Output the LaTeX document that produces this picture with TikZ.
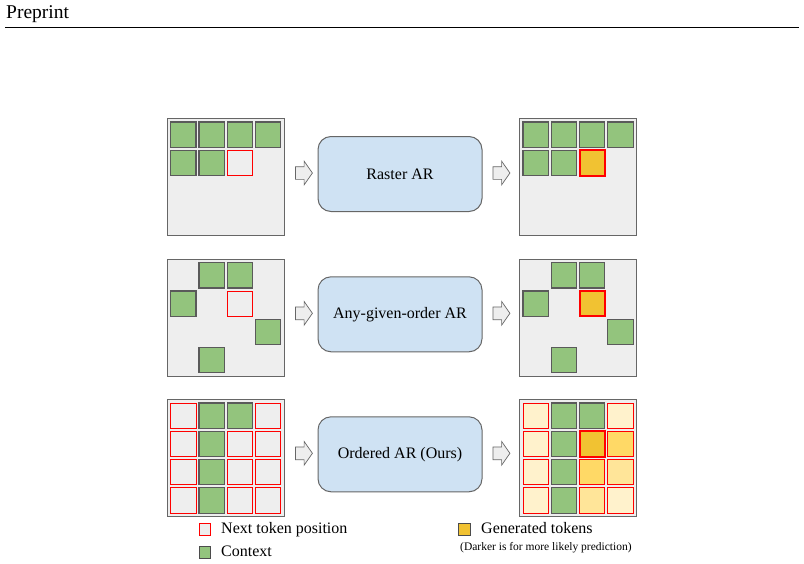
\documentclass[tikz,border=0pt]{standalone}
\usepackage{fontspec}
\setmainfont{Liberation Serif}
\usetikzlibrary{shapes.arrows}

\definecolor{panelgray}{HTML}{EEEEEE}
\definecolor{edgegray}{HTML}{666666}
\definecolor{celledge}{HTML}{5A5A5A}
\definecolor{ctxgreen}{HTML}{93C47D}
\definecolor{modelblue}{HTML}{CFE2F3}
\definecolor{genyellow}{HTML}{F1C232}
\definecolor{yellowa}{HTML}{FFD966}
\definecolor{yellowb}{HTML}{FFE599}
\definecolor{yellowc}{HTML}{FFF2CC}

\tikzset{
  panel/.style={draw=edgegray, fill=panelgray, line width=1pt, minimum size=117pt,
    inner sep=0pt, outer sep=0pt, anchor=north west},
  cell/.style={minimum size=25.3pt, inner sep=0pt, outer sep=0pt, anchor=north west},
  ctx/.style={cell, draw=celledge, fill=ctxgreen, line width=1.1pt},
  nexttok/.style={cell, draw=red, line width=1pt},
  gen/.style={cell, draw=red, fill=genyellow, line width=1.8pt},
  soft/.style={cell, draw=red, fill=#1, line width=1pt},
  model/.style={draw=edgegray, fill=modelblue, rounded corners=13pt, line width=1pt,
    minimum width=164pt, minimum height=75pt, font=\fontsize{16}{19}\selectfont},
  blockarrow/.style={single arrow, draw=edgegray, fill=panelgray, line width=0.7pt,
    minimum height=17pt, inner xsep=0pt, inner ysep=6pt, single arrow head extend=5.5pt,
    single arrow tip angle=110},
  legtext/.style={anchor=base west, inner sep=0pt, font=\fontsize{16}{19}\selectfont},
}

% token cell inside a panel: \tok[style]{panel}{col}{row}
\newcommand{\tok}[4][ctx]{%
  \node[#1] (#2-#3#4) at ([shift={({3.7+28.3*#3},{3.7+28.3*#4})}]#2.north west) {};}

\begin{document}
\begin{tikzpicture}[x=1pt, y=-1pt]
\useasboundingbox (0,0) rectangle (804,563);

% header
\node[anchor=base west, inner sep=0pt, font=\fontsize{19.5}{22}\selectfont] (head) at (6,18.5) {Preprint};
\draw[line width=0.9pt] (5,27) -- (799,27);

% panels
\node[panel] (ras) at (167,118.3) {};
\node[panel] (rasout) at (519.3,118.3) {};
\node[panel] (any) at (167,259) {};
\node[panel] (anyout) at (519.3,259) {};
\node[panel] (ord) at (167,399.3) {};
\node[panel] (ordout) at (519.3,399.3) {};

% models
\node[model] (rasm) at (400,174) {Raster AR};
\node[model] (anym) at (400,314.3) {Any-given-order AR};
\node[model] (ordm) at (400,454.3) {Ordered AR (Ours)};

\foreach \m/\y in {rasm/173, anym/313.3, ordm/453.3} {
  \node[blockarrow] (\m-in) at (301.7,\y) {};
  \node[blockarrow] (\m-out) at (499.2,\y) {};
}

% raster order
\foreach \p in {ras, rasout} {
  \foreach \c in {0,...,3} {\tok{\p}{\c}{0}}
  \tok{\p}{0}{1}
  \tok{\p}{1}{1}
}
\tok[nexttok]{ras}{2}{1}
\tok[gen]{rasout}{2}{1}

% any given order
\foreach \p in {any, anyout} {
  \foreach \c/\r in {1/0, 2/0, 0/1, 3/2, 1/3} {\tok{\p}{\c}{\r}}
}
\tok[nexttok]{any}{2}{1}
\tok[gen]{anyout}{2}{1}

% ordered
\foreach \p in {ord, ordout} {
  \foreach \r in {0,...,3} {\tok{\p}{1}{\r}}
  \tok{\p}{2}{0}
}
\foreach \c/\r in {0/0, 3/0, 0/1, 2/1, 3/1, 0/2, 2/2, 3/2, 0/3, 2/3, 3/3}
  {\tok[nexttok]{ord}{\c}{\r}}
\foreach \c/\r/\f in {0/0/yellowc, 3/0/yellowc, 0/1/yellowc, 3/1/yellowa, 0/2/yellowc,
    2/2/yellowa, 3/2/yellowb, 0/3/yellowc, 2/3/yellowb, 3/3/yellowc}
  {\tok[soft=\f]{ordout}{\c}{\r}}
\tok[gen]{ordout}{2}{1}

% legend
\node[draw=red, fill=panelgray, line width=0.8pt, minimum size=11.5pt, inner sep=0pt] (lnext) at (205,529.2) {};
\node[draw=black!70, fill=ctxgreen, line width=0.8pt, minimum size=11.5pt, inner sep=0pt] (lctx) at (205,552.5) {};
\node[draw=black!70, fill=genyellow, line width=0.8pt, minimum size=11.5pt, inner sep=0pt] (lgen) at (464.5,529.2) {};
\node[legtext] (tnext) at (221,533.6) {Next token position};
\node[legtext] (tctx) at (221,556.2) {Context};
\node[legtext] (tgen) at (481,533.6) {Generated tokens};
\node[legtext, font=\fontsize{11.5}{13}\selectfont] (tnote) at (460,550.5) {(Darker is for more likely prediction)};

\end{tikzpicture}
\end{document}
